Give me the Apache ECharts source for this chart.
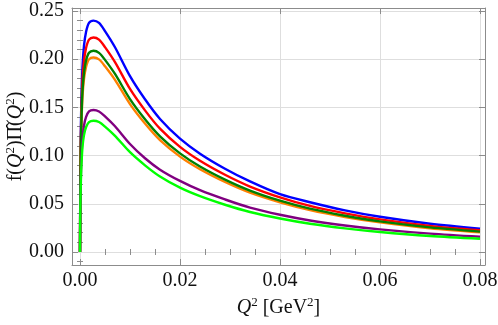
<!DOCTYPE html>
<html><head><meta charset="utf-8">
<script src="https://cdn.jsdelivr.net/npm/echarts@6/dist/echarts.min.js"></script>
<style>html,body{margin:0;padding:0;background:#fff}#c{width:498px;height:325px}</style>
</head><body><div id="c"></div>
<script>
// Q^2 sample positions (GeV^2)
const q2 = [0, 0.00005, 0.0001, 0.0002, 0.0003, 0.0005, 0.0008, 0.0012, 0.0018, 0.0027, 0.0038, 0.005, 0.007, 0.01, 0.013, 0.016, 0.02, 0.024, 0.029, 0.034, 0.04, 0.046, 0.053, 0.06, 0.07, 0.08];
const blueVals   = [0, 0.0600, 0.0960, 0.1370, 0.1610, 0.1920, 0.2140, 0.2280, 0.2376, 0.2400, 0.2376, 0.2292, 0.2124, 0.1824, 0.1584, 0.1380, 0.1176, 0.1020, 0.0864, 0.0732, 0.0600, 0.0516, 0.0432, 0.0365, 0.0293, 0.0242];
const redVals    = [0, 0.0556, 0.0890, 0.1268, 0.1491, 0.1780, 0.1980, 0.2114, 0.2203, 0.2225, 0.2203, 0.2125, 0.1969, 0.1691, 0.1469, 0.1279, 0.1090, 0.0946, 0.0801, 0.0679, 0.0567, 0.0478, 0.0401, 0.0338, 0.0271, 0.0225];
const greenVals  = [0, 0.0522, 0.0835, 0.1190, 0.1398, 0.1670, 0.1857, 0.1983, 0.2066, 0.2087, 0.2066, 0.1993, 0.1847, 0.1586, 0.1377, 0.1200, 0.1023, 0.0887, 0.0751, 0.0637, 0.0532, 0.0449, 0.0376, 0.0317, 0.0255, 0.0211];
const orangeVals = [0, 0.0505, 0.0807, 0.1150, 0.1352, 0.1614, 0.1796, 0.1917, 0.1998, 0.2018, 0.1998, 0.1927, 0.1786, 0.1534, 0.1332, 0.1160, 0.0989, 0.0858, 0.0726, 0.0615, 0.0515, 0.0434, 0.0363, 0.0307, 0.0246, 0.0204];
const purpleVals = [0, 0.0368, 0.0589, 0.0840, 0.0987, 0.1178, 0.1311, 0.1399, 0.1458, 0.1473, 0.1458, 0.1407, 0.1304, 0.1120, 0.0972, 0.0854, 0.0737, 0.0641, 0.0545, 0.0460, 0.0386, 0.0327, 0.0275, 0.0234, 0.0190, 0.0158];
const limeVals   = [0, 0.0341, 0.0545, 0.0776, 0.0913, 0.1090, 0.1212, 0.1294, 0.1348, 0.1362, 0.1348, 0.1301, 0.1205, 0.1035, 0.0899, 0.0783, 0.0667, 0.0579, 0.0490, 0.0415, 0.0347, 0.0293, 0.0245, 0.0207, 0.0166, 0.0138];

const xMajorTicks = [0, 0.02, 0.04, 0.06, 0.08];
const xMinorTicks = [0.005, 0.01, 0.015, 0.025, 0.03, 0.035, 0.045, 0.05, 0.055, 0.065, 0.07, 0.075];
const yMajorTicks = [0, 0.05, 0.10, 0.15, 0.20, 0.25];
const yMinorTicks = [-0.01, 0.01, 0.02, 0.03, 0.04, 0.06, 0.07, 0.08, 0.09, 0.11, 0.12, 0.13, 0.14, 0.16, 0.17, 0.18, 0.19, 0.21, 0.22, 0.23, 0.24];

const xRange = [-0.0016, 0.081];
const yRange = [-0.0135, 0.2531];

const FONT = 'Liberation Serif';
const FRAME = '#8c8c8c';
const TICK = '#8c8c8c';
const FS = 20;

function pairs(vals) { return q2.map((x, i) => [x, vals[i]]); }

function axis(kind, pos, ticks, len, opts) {
  const r = kind === 'x' ? xRange : yRange;
  return Object.assign({
    type: 'value', position: pos, min: r[0], max: r[1],
    axisLine: { show: false },
    axisTick: { show: true, inside: true, length: len, customValues: ticks, lineStyle: { color: TICK, width: 1 } },
    axisLabel: { show: false },
    splitLine: { show: false },
    silent: true
  }, opts || {});
}

const richName = {
  n: { fontFamily: FONT, fontSize: FS, color: '#111' },
  i: { fontFamily: FONT, fontSize: FS, fontStyle: 'italic', color: '#111' },
  s: { fontFamily: FONT, fontSize: 13, color: '#111', padding: [0, 0, 10, 0] }
};

const labelStyle = { show: true, fontFamily: FONT, fontSize: FS, color: '#111', formatter: v => v.toFixed(2) };

const chart = echarts.init(document.getElementById('c'), null, { renderer: 'canvas' });
chart.setOption({
  animation: false,
  backgroundColor: '#fff',
  grid: { left: 72, right: 13, top: 8, bottom: 60, containLabel: false, outerBoundsMode: 'none' },
  xAxis: [
    axis('x', 'bottom', xMajorTicks, 6, {
      axisLine: { show: true, onZero: false, lineStyle: { color: FRAME, width: 1 } },
      axisLabel: Object.assign({ customValues: xMajorTicks, margin: 6 }, labelStyle),
      splitLine: { show: true, lineStyle: { color: '#dedede', width: 1 } },
      name: '{i|Q}{s|2} {n|[GeV}{s|2}{n|]}', nameLocation: 'middle', nameGap: 31, nameMoveOverlap: false,
      nameTextStyle: { rich: richName, fontFamily: FONT, fontSize: FS }
    }),
    axis('x', 'bottom', xMinorTicks, 3),
    axis('x', 'top', xMajorTicks, 6, { axisLine: { show: true, onZero: false, lineStyle: { color: FRAME, width: 1 } } }),
    axis('x', 'top', xMinorTicks, 3)
  ],
  yAxis: [
    axis('y', 'left', yMajorTicks, 6, {
      axisLine: { show: true, onZero: false, lineStyle: { color: FRAME, width: 1 } },
      axisLabel: Object.assign({ customValues: yMajorTicks, margin: 8 }, labelStyle),
      splitLine: { show: true, lineStyle: { color: '#dedede', width: 1 } },
      name: '{n|f(}{i|Q}{s|2}{n|)\u03A0\u0302(}{i|Q}{s|2}{n|)}', nameLocation: 'middle', nameGap: 45, nameMoveOverlap: false,
      nameTextStyle: { rich: richName, fontFamily: FONT, fontSize: FS }
    }),
    axis('y', 'left', yMinorTicks, 3),
    axis('y', 'right', yMajorTicks, 6, { axisLine: { show: true, onZero: false, lineStyle: { color: FRAME, width: 1 } } }),
    axis('y', 'right', yMinorTicks, 3)
  ],
  series: [
    ['#0000ff', blueVals], ['#ff0000', redVals], ['#ff8000', orangeVals],
    ['#008000', greenVals], ['#800080', purpleVals], ['#00ff00', limeVals]
  ].map(([c, v]) => ({
    type: 'line', xAxisIndex: 0, yAxisIndex: 0, data: pairs(v),
    showSymbol: false, symbol: 'none', smooth: 0.3,
    lineStyle: { color: c, width: 2.4 }, itemStyle: { color: c }, silent: true
  }))
});
</script>
</body></html>
